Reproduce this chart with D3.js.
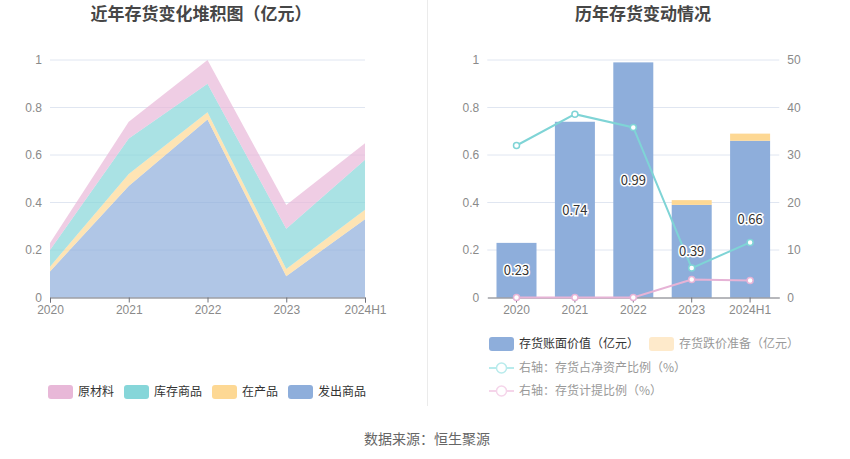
<!DOCTYPE html>
<html><head><meta charset="utf-8">
<script src="https://cdn.jsdelivr.net/npm/d3@7/dist/d3.min.js"></script>
<style>
html,body{margin:0;padding:0;background:#fff;}
svg{display:block;font-family:"Noto Sans CJK SC","Noto Sans",sans-serif;}
</style></head>
<body><svg id="c" width="850" height="459"></svg>
<script>
// ---- data ----
const categories = ["2020","2021","2022","2023","2024H1"];
// left stacked area (亿元)
const faChuShangPin = [0.11, 0.47, 0.75, 0.09, 0.33]; // 发出商品
const zaiChanPin   = [0.02, 0.05, 0.03, 0.03, 0.04]; // 在产品
const kuCunShangPin = [0.07, 0.15, 0.12, 0.17, 0.21]; // 库存商品
const yuanCaiLiao  = [0.03, 0.07, 0.10, 0.10, 0.07]; // 原材料
const stackNames = ["发出商品","在产品","库存商品","原材料"];
const leftLegendNames = ["原材料","库存商品","在产品","发出商品"];
// right chart
const bookValue = [0.23, 0.74, 0.99, 0.39, 0.66];   // 存货账面价值
const reserve   = [0.00, 0.00, 0.00, 0.02, 0.03];   // 存货跌价准备
const ratioNetAssets = [32.0, 38.6, 35.8, 6.2, 11.6]; // 存货占净资产比例 %
const provisionRatio = [0.0, 0.0, 0.0, 3.8, 3.6];     // 存货计提比例 %
const leftTicks = [0, 0.2, 0.4, 0.6, 0.8, 1];
const rightTicks = [0, 10, 20, 30, 40, 50];

const colors = {"发出商品":"#8eaedb","在产品":"#fdd894","库存商品":"#86d6d9","原材料":"#e8b8d8"};
const svg = d3.select("#c");
const axisCol = "#6e7079", gridCol = "#e0e6f1", labCol = "#8a8a8a";
const fmt = d3.format("~g");

// titles
svg.append("text").attr("x",201).attr("y",20).attr("text-anchor","middle")
  .attr("font-size",17).attr("font-weight","bold").attr("fill","#464646").text("近年存货变化堆积图（亿元）");
svg.append("text").attr("x",643).attr("y",20).attr("text-anchor","middle")
  .attr("font-size",17).attr("font-weight","bold").attr("fill","#464646").text("历年存货变动情况");
// divider
svg.append("line").attr("x1",427.5).attr("x2",427.5).attr("y1",0).attr("y2",406).attr("stroke","#ebebeb");
// footer
svg.append("text").attr("x",427).attr("y",444).attr("text-anchor","middle")
  .attr("font-size",14).attr("fill","#666").text("数据来源：恒生聚源");

// ---------- left chart ----------
const L = {x0:50, x1:365, y0:297.5, y1:60};
const xL = d3.scalePoint().domain(categories).range([L.x0, L.x1]);
const yL = d3.scaleLinear().domain([0,1]).range([L.y0, L.y1]);
const gL = svg.append("g");
gL.selectAll("line.grid").data(leftTicks.filter(d=>d>0)).join("line")
  .attr("x1",L.x0).attr("x2",L.x1).attr("y1",d=>yL(d)).attr("y2",d=>yL(d)).attr("stroke",gridCol);
const rows = categories.map((c,i)=>({cat:c,"发出商品":faChuShangPin[i],"在产品":zaiChanPin[i],"库存商品":kuCunShangPin[i],"原材料":yuanCaiLiao[i]}));
const stacked = d3.stack().keys(stackNames)(rows);
const area = d3.area().x(d=>xL(d.data.cat)).y0(d=>yL(d[0])).y1(d=>yL(d[1]));
gL.selectAll("path.area").data(stacked).join("path")
  .attr("d",area).attr("fill",d=>colors[d.key]).attr("fill-opacity",0.7);
const yAxL = gL.append("g").attr("transform",`translate(${L.x0},0)`)
  .call(d3.axisLeft(yL).tickValues(leftTicks).tickFormat(fmt).tickSize(0).tickPadding(8));
yAxL.select(".domain").remove();
yAxL.selectAll("text").attr("fill",labCol).attr("font-size",12).attr("font-family","inherit");
const xAxL = gL.append("g").attr("transform",`translate(0,${L.y0})`)
  .call(d3.axisBottom(xL).tickSize(5).tickPadding(3));
xAxL.select(".domain").attr("stroke",axisCol);
xAxL.selectAll("line").attr("stroke",axisCol);
xAxL.selectAll("text").attr("fill",labCol).attr("font-size",12).attr("font-family","inherit");

// left legend
const legL = svg.append("g");
const legLx = [48,124,212,288];
leftLegendNames.forEach((n,i)=>{
  legL.append("rect").attr("x",legLx[i]).attr("y",385).attr("width",25).attr("height",14).attr("rx",3)
    .attr("fill",colors[n]);
  legL.append("text").attr("x",legLx[i]+30).attr("y",396).attr("font-size",12).attr("fill","#333").text(n);
});

// ---------- right chart ----------
const R = {x0:487.3, x1:779.3, y0:297.5, y1:60};
const xR = d3.scaleBand().domain(categories).range([R.x0,R.x1]).paddingInner(0.315).paddingOuter(0.1575);
const yR = d3.scaleLinear().domain([0,1]).range([R.y0,R.y1]);
const yR2 = d3.scaleLinear().domain([0,50]).range([R.y0,R.y1]);
const gR = svg.append("g");
gR.selectAll("line.grid").data(leftTicks.filter(d=>d>0)).join("line")
  .attr("x1",R.x0).attr("x2",R.x1).attr("y1",d=>yR(d)).attr("y2",d=>yR(d)).attr("stroke",gridCol);
gR.selectAll("rect.book").data(bookValue).join("rect")
  .attr("x",(d,i)=>xR(categories[i])).attr("width",xR.bandwidth())
  .attr("y",d=>yR(d)).attr("height",d=>R.y0-yR(d)).attr("fill","#8eaedb");
gR.selectAll("rect.res").data(reserve).join("rect")
  .attr("x",(d,i)=>xR(categories[i])).attr("width",xR.bandwidth())
  .attr("y",(d,i)=>yR(bookValue[i]+d)).attr("height",(d,i)=>yR(bookValue[i])-yR(bookValue[i]+d))
  .attr("fill","#fdd894");
const yAxR = gR.append("g").attr("transform",`translate(${R.x0},0)`)
  .call(d3.axisLeft(yR).tickValues(leftTicks).tickFormat(fmt).tickSize(0).tickPadding(8));
yAxR.select(".domain").remove();
yAxR.selectAll("text").attr("fill",labCol).attr("font-size",12).attr("font-family","inherit");
const yAxR2 = gR.append("g").attr("transform",`translate(${R.x1},0)`)
  .call(d3.axisRight(yR2).tickValues(rightTicks).tickSize(0).tickPadding(8));
yAxR2.select(".domain").remove();
yAxR2.selectAll("text").attr("fill",labCol).attr("font-size",12).attr("font-family","inherit");
const xAxR = gR.append("g").attr("transform",`translate(0,${R.y0})`)
  .call(d3.axisBottom(xR).tickSize(5).tickPadding(3).tickSizeOuter(0));
xAxR.select(".domain").attr("stroke",axisCol);
xAxR.selectAll("line").attr("stroke",axisCol);
xAxR.selectAll("text").attr("fill",labCol).attr("font-size",12).attr("font-family","inherit");

const cx = c => xR(c)+xR.bandwidth()/2;
const line = d3.line().x((d,i)=>cx(categories[i])).y(d=>yR2(d));
[[ratioNetAssets,"#7fd4d6"],[provisionRatio,"#e6b3d6"]].forEach(([arr,col])=>{
  gR.append("path").attr("d",line(arr)).attr("fill","none").attr("stroke",col).attr("stroke-width",2);
  gR.selectAll(null).data(arr).join("circle")
    .attr("cx",(d,i)=>cx(categories[i])).attr("cy",d=>yR2(d)).attr("r",3)
    .attr("fill","#fff").attr("stroke",col).attr("stroke-width",1.5);
});
// bar labels
gR.selectAll("text.lab").data(bookValue).join("text")
  .attr("x",(d,i)=>cx(categories[i])).attr("y",d=>(yR(d)+R.y0)/2+5)
  .attr("text-anchor","middle").attr("font-size",13).attr("fill","#333")
  .attr("stroke","#fff").attr("stroke-width",3).attr("paint-order","stroke")
  .text(d=>d.toFixed(2));

// right legend
const legR = svg.append("g");
legR.append("rect").attr("x",489).attr("y",337).attr("width",25).attr("height",14).attr("rx",3).attr("fill","#8eaedb");
legR.append("text").attr("x",519).attr("y",348).attr("font-size",12).attr("fill","#333").text("存货账面价值（亿元）");
legR.append("rect").attr("x",649).attr("y",337).attr("width",25).attr("height",14).attr("rx",3).attr("fill","#feeacb");
legR.append("text").attr("x",679).attr("y",348).attr("font-size",12).attr("fill","#999").text("存货跌价准备（亿元）");
[["右轴：存货占净资产比例（%）","#b8ebec",368],["右轴：存货计提比例（%）","#f5d5ea",391]].forEach(([t,col,y])=>{
  legR.append("line").attr("x1",489).attr("x2",514).attr("y1",y).attr("y2",y).attr("stroke",col).attr("stroke-width",2);
  legR.append("circle").attr("cx",501.5).attr("cy",y).attr("r",5).attr("fill","#fff").attr("stroke",col).attr("stroke-width",1.5);
  legR.append("text").attr("x",519).attr("y",y+4).attr("font-size",12).attr("fill","#999").text(t);
});
</script></body></html>
